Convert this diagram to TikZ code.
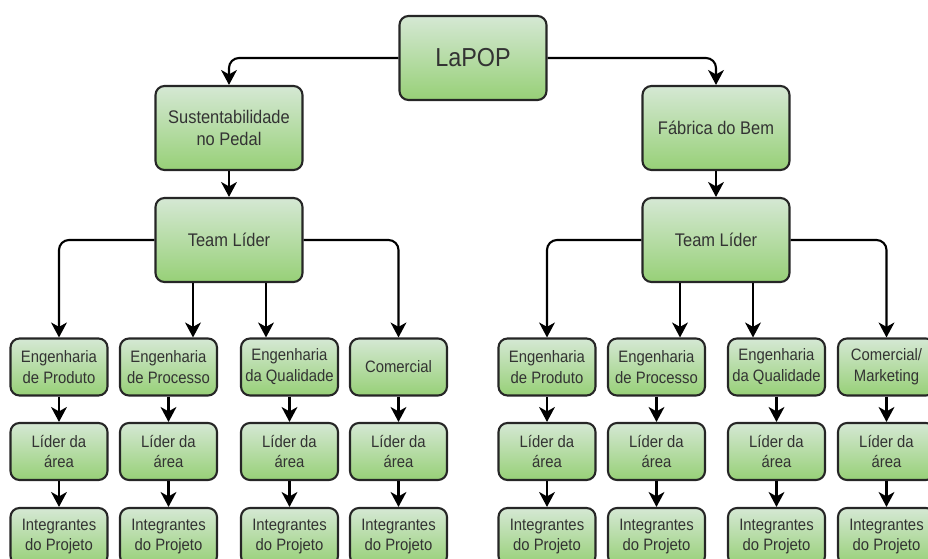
\documentclass[tikz,border=0pt]{standalone}
\usepackage{fontspec}
\setmainfont[FakeStretch=0.9]{Liberation Sans}
\usetikzlibrary{arrows.meta}
\definecolor{boxtop}{HTML}{D5E8D4}
\definecolor{boxbot}{HTML}{97D077}
\definecolor{boxtxt}{HTML}{333333}

\begin{document}
\begin{tikzpicture}[
    box/.style={draw=black!85, line width=1.2pt, rounded corners=0.18cm,
      top color=boxtop, bottom color=boxbot, text=boxtxt, align=center, inner sep=0pt},
    big/.style={box, minimum width=2.94cm, minimum height=1.68cm,
      font=\fontsize{10.4}{13}\selectfont},
    small/.style={box, minimum width=1.94cm, minimum height=1.14cm,
      font=\fontsize{9.4}{11.9}\selectfont},
    conn/.style={line width=1.2pt, rounded corners=0.2cm,
      -{Stealth[length=8.5pt,width=9pt,inset=2.5pt]}}]
  \useasboundingbox (0,0) rectangle (18.56,-11.18);
  \draw
    (9.46,-1.16) node[big, font=\fontsize{14.8}{17}\selectfont] (lapop){LaPOP}
    (4.58,-2.56) node[big] (sust){Sustentabilidade\\no Pedal}
    (14.32,-2.56) node[big] (fab){Fábrica do Bem}
    (4.58,-4.80) node[big] (teamL){Team Líder}
    (14.32,-4.80) node[big] (teamR){Team Líder};
  % left project
  \draw
    (1.18,-7.34) node[small] (l11){Engenharia\\de Produto}
    (3.37,-7.34) node[small] (l12){Engenharia\\de Processo}
    (5.79,-7.34) node[small] (l13){Engenharia\\da Qualidade}
    (7.97,-7.34) node[small] (l14){Comercial}
    (1.18,-9.03) node[small] (l21){Líder da\\área}
    (3.37,-9.03) node[small] (l22){Líder da\\área}
    (5.79,-9.03) node[small] (l23){Líder da\\área}
    (7.97,-9.03) node[small] (l24){Líder da\\área}
    (1.18,-10.73) node[small] (l31){Integrantes\\do Projeto}
    (3.37,-10.73) node[small] (l32){Integrantes\\do Projeto}
    (5.79,-10.73) node[small] (l33){Integrantes\\do Projeto}
    (7.97,-10.73) node[small] (l34){Integrantes\\do Projeto};
  % right project
  \draw
    (10.94,-7.34) node[small] (r11){Engenharia\\de Produto}
    (13.13,-7.34) node[small] (r12){Engenharia\\de Processo}
    (15.53,-7.34) node[small] (r13){Engenharia\\da Qualidade}
    (17.73,-7.34) node[small] (r14){Comercial/\\Marketing}
    (10.94,-9.03) node[small] (r21){Líder da\\área}
    (13.13,-9.03) node[small] (r22){Líder da\\área}
    (15.53,-9.03) node[small] (r23){Líder da\\área}
    (17.73,-9.03) node[small] (r24){Líder da\\área}
    (10.94,-10.73) node[small] (r31){Integrantes\\do Projeto}
    (13.13,-10.73) node[small] (r32){Integrantes\\do Projeto}
    (15.53,-10.73) node[small] (r33){Integrantes\\do Projeto}
    (17.73,-10.73) node[small] (r34){Integrantes\\do Projeto};
  \begin{scope}[conn]
    \draw (lapop.west) -| (sust.north);
    \draw (lapop.east) -| (fab.north);
    \draw (sust) to (teamL);
    \draw (fab) to (teamR);
    \draw (teamL.west) -| (l11.north);
    \draw ([xshift=-0.72cm]teamL.south) -- ([xshift=-0.72cm]teamL.south |- l12.north);
    \draw ([xshift=0.74cm]teamL.south) -- ([xshift=0.74cm]teamL.south |- l13.north);
    \draw (teamL.east) -| (l14.north);
    \draw (teamR.west) -| (r11.north);
    \draw ([xshift=-0.72cm]teamR.south) -- ([xshift=-0.72cm]teamR.south |- r12.north);
    \draw ([xshift=0.74cm]teamR.south) -- ([xshift=0.74cm]teamR.south |- r13.north);
    \draw (teamR.east) -| (r14.north);
    \foreach \s in {l,r}{
      \foreach \c in {1,2,3,4}{
        \draw (\s1\c) to (\s2\c);
        \draw (\s2\c) to (\s3\c);
      }
    }
  \end{scope}
\end{tikzpicture}
\end{document}
